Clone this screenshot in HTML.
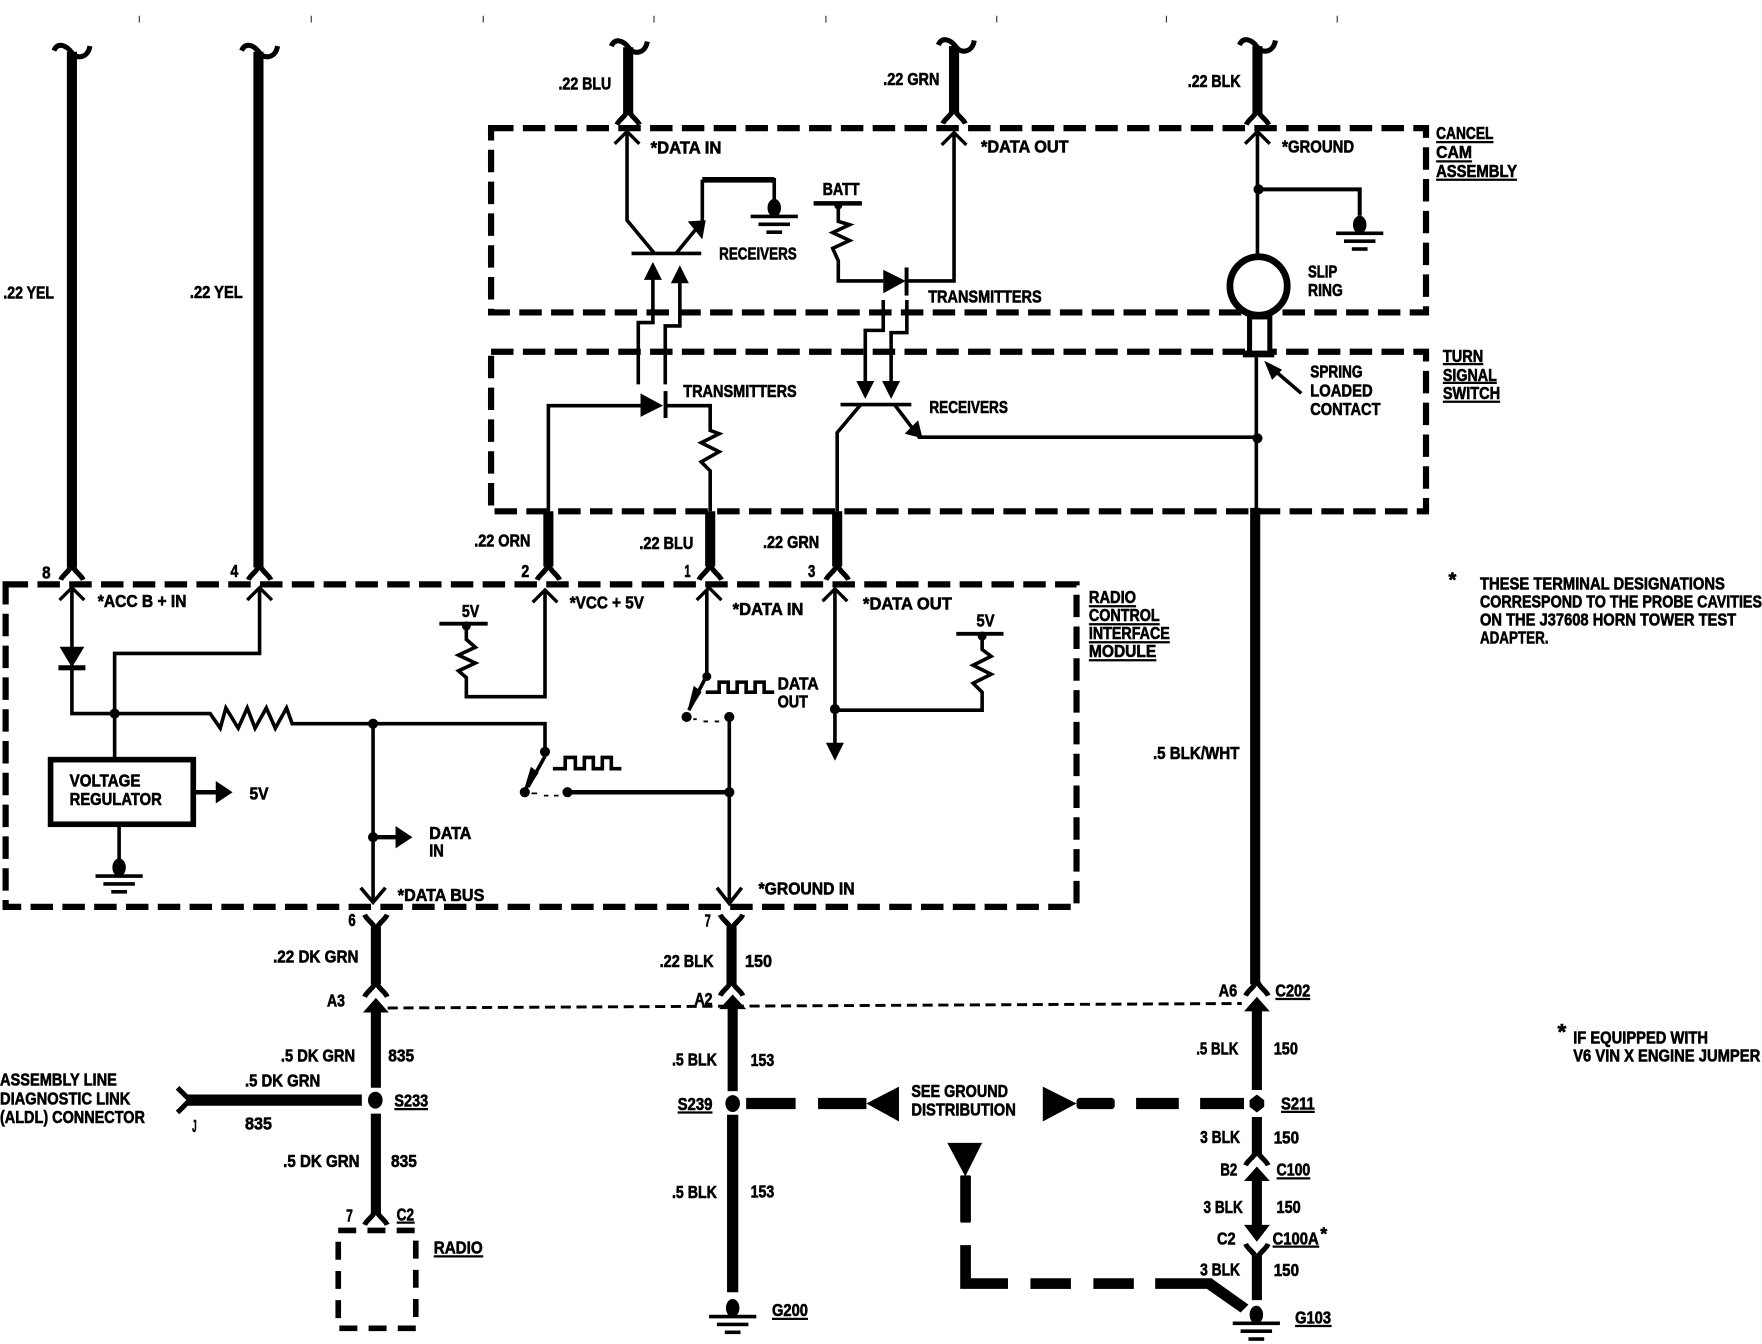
<!DOCTYPE html>
<html>
<head>
<meta charset="utf-8">
<style>
html,body{margin:0;padding:0;background:#fff;width:1762px;height:1344px;overflow:hidden}
svg{display:block}
text{font-family:"Liberation Sans",sans-serif;font-weight:bold;font-size:15.5px;fill:#000;stroke:#000;stroke-width:.55}
</style>
</head>
<body>
<svg xmlns="http://www.w3.org/2000/svg" width="1762" height="1344" viewBox="0 0 1568 1196">
<defs>
<path id="sq" d="M-16,0 C-13,-7 -6,-6 0,2 C3,7 14,8 16,-4" fill="none" stroke="#000" stroke-width="4.5"/>
<path id="fork" d="M-10,11 C-8,6 -2,4 0,-3 C2,4 8,6 10,11" fill="none" stroke="#000" stroke-width="4.5"/>
<path id="chev" d="M-11,10 L0,-1 L11,10" fill="none" stroke="#000" stroke-width="3"/>
<g id="gnd">
<ellipse cx="0" cy="0" rx="6" ry="8" fill="#000"/>
<rect x="-21" y="6" width="42" height="3.2"/>
<rect x="-14" y="13" width="28" height="3.2"/>
<rect x="-7" y="20" width="14" height="3.2"/>
</g>
</defs>
<rect width="1568" height="1196" fill="#fff"/>

<!-- ticks -->
<path d="M124,14V20M277,14V20M430,14V20M582,14V20M735,14V20M887,14V20M1038,14V20M1190,14V20" stroke="#333" stroke-width="1"/>

<!-- thick wires -->
<g stroke="#000" stroke-width="9" fill="none">
<path d="M64,46V505"/>
<path d="M230,46V505"/>
<path d="M559,42V101"/>
<path d="M849,41V100"/>
<path d="M1119,41V101"/>
<path d="M488,455V504"/>
<path d="M632,455V504"/>
<path d="M745,455V504"/>
<path d="M1117,452V876"/>
<path d="M334.5,825V876"/>
<path d="M651,825V876"/>
<path d="M334.5,895V968"/>
<path d="M334.5,991V1081"/>
<path d="M652,892V971"/>
<path d="M652,992V1150" stroke-width="10"/>
<path d="M1118.5,895V970"/>
<path d="M1118.5,994V1029"/>
<path d="M1118.5,1046V1095"/>
<path d="M1118.5,1116V1157"/>
<path d="M167,979H322" stroke-width="10"/>
</g>
<!-- squiggles -->
<use href="#sq" x="64" y="45"/>
<use href="#sq" x="231" y="45"/>
<use href="#sq" x="560" y="41"/>
<use href="#sq" x="851" y="40"/>
<use href="#sq" x="1119" y="40"/>
<!-- forks open downward -->
<use href="#fork" x="64" y="505"/>
<use href="#fork" x="231" y="505"/>
<use href="#fork" x="488" y="505"/>
<use href="#fork" x="632" y="505"/>
<use href="#fork" x="745" y="505"/>
<use href="#fork" x="559" y="100"/>
<use href="#fork" x="849" y="99"/>
<use href="#fork" x="1119" y="100"/>
<use href="#fork" x="334.5" y="876"/>
<use href="#fork" x="651" y="875"/>
<use href="#fork" x="1118.5" y="875"/>
<use href="#fork" x="1118.5" y="1026"/>
<use href="#fork" x="334.5" y="1079"/>
<!-- forks open upward -->
<use href="#fork" transform="translate(334.5,825) scale(1,-1)"/>
<use href="#fork" transform="translate(651,825) scale(1,-1)"/>
<use href="#fork" transform="translate(1118.5,1118) scale(1,-1)"/>
<!-- ALDL fork -->
<path d="M158,968 L169,979 L158,990" fill="none" stroke="#000" stroke-width="4.5"/>

<!-- big arrowheads on wires -->
<path d="M334.5,888 L346,901 L323,901Z"/>
<path d="M652,885 L664,898 L640,898Z"/>
<path d="M1118.5,887 L1130,900 L1107,900Z"/>
<path d="M1118.5,1038 L1130,1051 L1107,1051Z"/>
<path d="M1118.5,1105 L1107,1090 L1130,1090Z"/>

<!-- splice dots -->
<ellipse cx="334" cy="979" rx="6.5" ry="7.5"/>
<ellipse cx="652" cy="982" rx="6.5" ry="7.5"/>
<path d="M1118.5,974 L1125,979 V985 L1118.5,990 L1112,985 V979Z"/>

<!-- dashed boxes -->
<g fill="none" stroke="#000" stroke-width="5.5" stroke-dasharray="20 8.3">
<rect x="437" y="114" width="832" height="164"/>
<rect x="437" y="313" width="832" height="142"/>
<rect x="5" y="520" width="953" height="287"/>
</g>
<rect x="301" y="1095" width="69" height="87" fill="none" stroke="#000" stroke-width="5" stroke-dasharray="16 10"/>

<!-- thin dashed -->
<path d="M345,897L1105,893" stroke="#000" stroke-width="2.6" stroke-dasharray="9 5" fill="none"/>

<!-- cancel cam internals -->
<g fill="none" stroke="#000" stroke-width="3.2">
<path d="M558,118V196L582,225"/>
<path d="M562,225.5H624"/>
<path d="M602,225L625,197V160"/>
<path d="M625,160H689V180" />
<path d="M849,118V250H807"/>
<path d="M746,182V197L756,200L741,207L756,214L741,221L746,232V250H786"/>
<path d="M724,181H767" stroke-width="4"/>
<path d="M1119,118V228"/>
<path d="M1119,168.5H1210V192" stroke-width="3.6"/>
<path d="M568,342V287H581V248"/>
<path d="M592,342V290H605V251"/>
<path d="M786,267V294H770V340"/>
<path d="M807,267V296H793V340"/>
<path d="M488,455V361H570"/>
<path d="M592,361H632V383L640,386L624,394L640,402L624,411L632,419V455"/>
<path d="M748,360H811"/>
<path d="M766,360L745,385V455"/>
<path d="M796,360L818,389H1118"/>
<path d="M1118,318V455"/>
<path d="M1158,350L1130,326"/>
</g>
<path d="M625,160H689" stroke="#000" stroke-width="5" fill="none"/>
<path d="M612,197 L628,196 L625,213Z" transform="rotate(0)"/>
<use href="#chev" x="558" y="118"/>
<use href="#chev" x="849" y="119"/>
<use href="#chev" x="1119" y="118"/>
<use href="#gnd" x="689" y="185"/>
<use href="#gnd" transform="translate(1210,200)"/>
<ellipse cx="746" cy="183" rx="3.5" ry="3.5"/>
<circle cx="1120" cy="168.5" r="4.5"/>
<path d="M786,240 L806,250 L786,261Z"/>
<rect x="805" y="238" width="3.5" height="25"/>
<path d="M570,350 L590,361 L570,371Z"/>
<rect x="590.5" y="348" width="3.5" height="24"/>
<path d="M581,233 L589,249 L573,249Z"/>
<path d="M605,236 L613,252 L597,252Z"/>
<path d="M770,355 L762,339 L778,339Z"/>
<path d="M793,355 L785,339 L801,339Z"/>
<path d="M821,390 L805,386 L817,374Z"/>
<ellipse cx="1120" cy="254.5" rx="25.5" ry="26" fill="#fff" stroke="#000" stroke-width="6"/>
<rect x="1112" y="282" width="18" height="33" fill="#fff" stroke="#000" stroke-width="4.5"/>
<rect x="1106" y="312" width="28" height="6"/>
<circle cx="1119" cy="390" r="4.5"/>
<path d="M1125,321 L1141,329 L1132,338Z"/>

<!-- radio module internals -->
<g fill="none" stroke="#000" stroke-width="3.2">
<path d="M64,525V580"/>
<path d="M64,594V635H187L196,648L201,630L212,648L220,630L227,648L237,630L245,648L255,630L260,644H485V669"/>
<path d="M102,635V581.5H231V525"/>
<path d="M102,635V676"/>
<path d="M106,733V766"/>
<path d="M415,556V569L423,576L408,583L423,590L408,597L415,603V620H485V526"/>
<path d="M629,525V601"/>
<path d="M743,525V662"/>
<path d="M874,565V578L882,584L866,592L882,600L866,608L874,616V632H743"/>
<path d="M332,644V802"/>
<path d="M649,638V804"/>
<path d="M504,705H649" stroke-width="4"/>
<path d="M485,673L470,700"/>
<path d="M629,601L613,632"/>
<path d="M628,616H640V607H648V616H656V607H664V616H672V607H680V616H689"/>
<path d="M492,684H503V674H512V684H520V674H528V684H536V674H544V684H553"/>
<path d="M172,705H195" stroke-width="4"/>
<path d="M332,745H355" stroke-width="4"/>
<path d="M391,555H434" stroke-width="3.4"/>
<path d="M851,564H893" stroke-width="3.4"/>
<path d="M321,790L332,803L343,790"/>
<path d="M638,790L649,804L660,790"/>
<path d="M473,706H478M484,708H488M493,708H497" stroke-width="1.6"/>
<path d="M617,640H620M626,642H630M636,642H640" stroke-width="1.6"/>
</g>
<use href="#chev" x="64" y="524"/>
<use href="#chev" x="231" y="524"/>
<use href="#chev" x="485" y="526"/>
<use href="#chev" x="631" y="524"/>
<use href="#chev" x="743" y="525"/>
<path d="M53,575.5H75L64,594Z"/>
<rect x="52" y="592" width="24" height="4.5"/>
<rect x="45" y="676" width="127" height="57.5" fill="#fff" stroke="#000" stroke-width="5"/>
<path d="M192,695 L207,705 L192,715Z"/>
<path d="M352,735 L367,745 L352,755Z"/>
<path d="M743,677 L735,661 L751,661Z"/>
<use href="#gnd" transform="translate(106,772)"/>
<circle cx="102" cy="635" r="4.5"/>
<circle cx="332" cy="644" r="4.5"/>
<circle cx="332" cy="745" r="4.5"/>
<circle cx="485" cy="669" r="4.5"/>
<circle cx="467" cy="705" r="4.5"/>
<circle cx="505" cy="705" r="4.5"/>
<circle cx="649" cy="705" r="4.5"/>
<circle cx="649" cy="638" r="4.5"/>
<circle cx="611" cy="638" r="4.5"/>
<circle cx="629" cy="602" r="4"/>
<circle cx="743" cy="631" r="4.5"/>
<circle cx="415" cy="557" r="4"/>
<circle cx="874" cy="566" r="4"/>
<path d="M467,704 L478,688 L473,684Z" stroke="#000" stroke-width="2"/>
<path d="M613,632 L623,616 L618,612Z" stroke="#000" stroke-width="2"/>

<!-- ground distribution thick dashes -->
<g fill="#000">
<rect x="664" y="977" width="44" height="10"/>
<rect x="728" y="977" width="43" height="10"/>
<path d="M771,982 L800,967 L800,998Z"/>
<path d="M958,982 L928,967 L928,998Z"/>
<rect x="958" y="977" width="34" height="10" rx="3"/>
<rect x="1011" y="977" width="38" height="10"/>
<rect x="1068" y="977" width="39" height="10"/>
<path d="M843,1017 H874 L859,1047Z"/>
<rect x="854.5" y="1046" width="9.5" height="42" rx="1"/>
<path d="M854.5,1108 H864 V1137.5 H897 V1147 H854.5Z"/>
<rect x="917" y="1137.5" width="36" height="9.5"/>
<rect x="973" y="1137.5" width="36" height="9.5"/>
<path d="M1028,1137.5 H1078 L1111,1161 L1104,1168 L1074,1147 H1028Z"/>
</g>
<use href="#gnd" transform="translate(652,1164)"/>
<use href="#gnd" transform="translate(1118,1170)"/>

<!-- underlines -->
<path d="M1278,126.5H1329M1278,143.6H1310M1278,160H1350M1284,324H1320M1284,340.7H1332M1284,357.5H1335M969,539.5H1011M969,555.5H1032M969,571.5H1041M969,587.5H1029M1135,889H1166M351,987H381M603,990H634M1140,989.4H1170M1136,1048.6H1166M1132.5,1109.4H1174M353,1088H369M386,1118H430M687,1173.7H719M1152.5,1180H1185" stroke="#000" stroke-width="2" fill="none"/>

<!-- labels -->
<text x="3" y="265.5" textLength="45" lengthAdjust="spacingAndGlyphs">.22 YEL</text>
<text x="169" y="265" textLength="47" lengthAdjust="spacingAndGlyphs">.22 YEL</text>
<text x="497" y="79.5" textLength="47" lengthAdjust="spacingAndGlyphs">.22 BLU</text>
<text x="786" y="75.5" textLength="50" lengthAdjust="spacingAndGlyphs">.22 GRN</text>
<text x="1057" y="77.5" textLength="47" lengthAdjust="spacingAndGlyphs">.22 BLK</text>
<text x="579" y="136.5" textLength="63" lengthAdjust="spacingAndGlyphs">*DATA IN</text>
<text x="873" y="135.5" textLength="78" lengthAdjust="spacingAndGlyphs">*DATA OUT</text>
<text x="1141" y="135.5" textLength="64" lengthAdjust="spacingAndGlyphs">*GROUND</text>
<text x="1278" y="123.5" textLength="51" lengthAdjust="spacingAndGlyphs">CANCEL</text>
<text x="1278" y="140.5" textLength="32" lengthAdjust="spacingAndGlyphs">CAM</text>
<text x="1278" y="157.5" textLength="72" lengthAdjust="spacingAndGlyphs">ASSEMBLY</text>
<text x="1284" y="322" textLength="36" lengthAdjust="spacingAndGlyphs">TURN</text>
<text x="1284" y="339" textLength="48" lengthAdjust="spacingAndGlyphs">SIGNAL</text>
<text x="1284" y="355" textLength="51" lengthAdjust="spacingAndGlyphs">SWITCH</text>
<text x="732" y="173.5" textLength="33" lengthAdjust="spacingAndGlyphs">BATT</text>
<text x="640" y="231" textLength="69" lengthAdjust="spacingAndGlyphs">RECEIVERS</text>
<text x="826" y="269" textLength="101" lengthAdjust="spacingAndGlyphs">TRANSMITTERS</text>
<text x="1164" y="247" textLength="26" lengthAdjust="spacingAndGlyphs">SLIP</text>
<text x="1164" y="263.5" textLength="31" lengthAdjust="spacingAndGlyphs">RING</text>
<text x="608" y="353.5" textLength="101" lengthAdjust="spacingAndGlyphs">TRANSMITTERS</text>
<text x="827" y="367.5" textLength="70" lengthAdjust="spacingAndGlyphs">RECEIVERS</text>
<text x="1166" y="336" textLength="46.5" lengthAdjust="spacingAndGlyphs">SPRING</text>
<text x="1166" y="353" textLength="55.5" lengthAdjust="spacingAndGlyphs">LOADED</text>
<text x="1166" y="369.5" textLength="62.5" lengthAdjust="spacingAndGlyphs">CONTACT</text>
<text x="422" y="486.5" textLength="50" lengthAdjust="spacingAndGlyphs">.22 ORN</text>
<text x="569" y="488.5" textLength="48" lengthAdjust="spacingAndGlyphs">.22 BLU</text>
<text x="679" y="487.5" textLength="50" lengthAdjust="spacingAndGlyphs">.22 GRN</text>
<text x="37.5" y="515" textLength="7.5" lengthAdjust="spacingAndGlyphs">8</text>
<text x="205" y="513.5" textLength="7" lengthAdjust="spacingAndGlyphs">4</text>
<text x="464" y="513.5" textLength="7" lengthAdjust="spacingAndGlyphs">2</text>
<text x="609" y="513.5" textLength="5.5" lengthAdjust="spacingAndGlyphs">1</text>
<text x="719" y="513.5" textLength="6.5" lengthAdjust="spacingAndGlyphs">3</text>
<text x="87" y="540" textLength="79" lengthAdjust="spacingAndGlyphs">*ACC B + IN</text>
<text x="507" y="541.5" textLength="66" lengthAdjust="spacingAndGlyphs">*VCC + 5V</text>
<text x="652" y="547.5" textLength="63" lengthAdjust="spacingAndGlyphs">*DATA IN</text>
<text x="768" y="542.5" textLength="79" lengthAdjust="spacingAndGlyphs">*DATA OUT</text>
<text x="969" y="536.5" textLength="42" lengthAdjust="spacingAndGlyphs">RADIO</text>
<text x="969" y="552.5" textLength="63" lengthAdjust="spacingAndGlyphs">CONTROL</text>
<text x="969" y="568.5" textLength="72" lengthAdjust="spacingAndGlyphs">INTERFACE</text>
<text x="969" y="584.5" textLength="60" lengthAdjust="spacingAndGlyphs">MODULE</text>
<text x="1289" y="522" style="font-size:18px">*</text>
<text x="1317" y="524.5" textLength="218" lengthAdjust="spacingAndGlyphs">THESE TERMINAL DESIGNATIONS</text>
<text x="1317" y="540.5" textLength="251" lengthAdjust="spacingAndGlyphs">CORRESPOND TO THE PROBE CAVITIES</text>
<text x="1317" y="556.5" textLength="228" lengthAdjust="spacingAndGlyphs">ON THE J37608 HORN TOWER TEST</text>
<text x="1317" y="572.5" textLength="61" lengthAdjust="spacingAndGlyphs">ADAPTER.</text>
<text x="1026" y="675.5" textLength="77" lengthAdjust="spacingAndGlyphs">.5 BLK/WHT</text>
<text x="411" y="549" textLength="15.5" lengthAdjust="spacingAndGlyphs">5V</text>
<text x="869" y="557.5" textLength="16" lengthAdjust="spacingAndGlyphs">5V</text>
<text x="692" y="613.5" textLength="36.5" lengthAdjust="spacingAndGlyphs">DATA</text>
<text x="692" y="629.5" textLength="27" lengthAdjust="spacingAndGlyphs">OUT</text>
<text x="62" y="700" textLength="63" lengthAdjust="spacingAndGlyphs">VOLTAGE</text>
<text x="62" y="716.5" textLength="82" lengthAdjust="spacingAndGlyphs">REGULATOR</text>
<text x="222" y="711.5" textLength="17" lengthAdjust="spacingAndGlyphs">5V</text>
<text x="382" y="746.5" textLength="37.5" lengthAdjust="spacingAndGlyphs">DATA</text>
<text x="382" y="762" textLength="13" lengthAdjust="spacingAndGlyphs">IN</text>
<text x="354" y="802" textLength="77" lengthAdjust="spacingAndGlyphs">*DATA BUS</text>
<text x="675" y="796" textLength="85.5" lengthAdjust="spacingAndGlyphs">*GROUND IN</text>
<text x="310" y="824" textLength="6.5" lengthAdjust="spacingAndGlyphs">6</text>
<text x="627" y="824.5" textLength="5.5" lengthAdjust="spacingAndGlyphs">7</text>
<text x="243" y="856.5" textLength="76" lengthAdjust="spacingAndGlyphs">.22 DK GRN</text>
<text x="587" y="860.5" textLength="48" lengthAdjust="spacingAndGlyphs">.22 BLK</text>
<text x="663" y="860.5" textLength="24" lengthAdjust="spacingAndGlyphs">150</text>
<text x="291" y="895.5" textLength="16" lengthAdjust="spacingAndGlyphs">A3</text>
<text x="618" y="894.5" textLength="16" lengthAdjust="spacingAndGlyphs">A2</text>
<text x="1084.5" y="887" textLength="16.5" lengthAdjust="spacingAndGlyphs">A6</text>
<text x="1135" y="887" textLength="31" lengthAdjust="spacingAndGlyphs">C202</text>
<text x="250" y="944.5" textLength="66" lengthAdjust="spacingAndGlyphs">.5 DK GRN</text>
<text x="345.5" y="944.5" textLength="23" lengthAdjust="spacingAndGlyphs">835</text>
<text x="598" y="948" textLength="40" lengthAdjust="spacingAndGlyphs">.5 BLK</text>
<text x="668" y="948.5" textLength="21" lengthAdjust="spacingAndGlyphs">153</text>
<text x="1064.5" y="938.5" textLength="37.5" lengthAdjust="spacingAndGlyphs">.5 BLK</text>
<text x="1133.5" y="938.5" textLength="21.5" lengthAdjust="spacingAndGlyphs">150</text>
<text x="0" y="966" textLength="104" lengthAdjust="spacingAndGlyphs">ASSEMBLY LINE</text>
<text x="0" y="983" textLength="116" lengthAdjust="spacingAndGlyphs">DIAGNOSTIC LINK</text>
<text x="0" y="999.5" textLength="129" lengthAdjust="spacingAndGlyphs">(ALDL) CONNECTOR</text>
<text x="218" y="967" textLength="67" lengthAdjust="spacingAndGlyphs">.5 DK GRN</text>
<text x="218" y="1005" textLength="24" lengthAdjust="spacingAndGlyphs">835</text>
<text x="171" y="1007.5" textLength="4" lengthAdjust="spacingAndGlyphs">J</text>
<text x="351" y="984.5" textLength="30" lengthAdjust="spacingAndGlyphs">S233</text>
<text x="603" y="988" textLength="31" lengthAdjust="spacingAndGlyphs">S239</text>
<text x="1140" y="987.5" textLength="30" lengthAdjust="spacingAndGlyphs">S211</text>
<text x="252" y="1038.5" textLength="68" lengthAdjust="spacingAndGlyphs">.5 DK GRN</text>
<text x="348" y="1038.5" textLength="23" lengthAdjust="spacingAndGlyphs">835</text>
<text x="598" y="1066" textLength="40" lengthAdjust="spacingAndGlyphs">.5 BLK</text>
<text x="668" y="1065.5" textLength="21" lengthAdjust="spacingAndGlyphs">153</text>
<text x="308" y="1087" textLength="6" lengthAdjust="spacingAndGlyphs">7</text>
<text x="353" y="1086" textLength="15.5" lengthAdjust="spacingAndGlyphs">C2</text>
<text x="386" y="1115.5" textLength="43.5" lengthAdjust="spacingAndGlyphs">RADIO</text>
<text x="687" y="1171" textLength="32" lengthAdjust="spacingAndGlyphs">G200</text>
<text x="811" y="976" textLength="86" lengthAdjust="spacingAndGlyphs">SEE GROUND</text>
<text x="811" y="992.5" textLength="93" lengthAdjust="spacingAndGlyphs">DISTRIBUTION</text>
<text x="1068" y="1017" textLength="35.5" lengthAdjust="spacingAndGlyphs">3 BLK</text>
<text x="1133.5" y="1017.5" textLength="22.5" lengthAdjust="spacingAndGlyphs">150</text>
<text x="1086" y="1046" textLength="15" lengthAdjust="spacingAndGlyphs">B2</text>
<text x="1136" y="1046" textLength="30" lengthAdjust="spacingAndGlyphs">C100</text>
<text x="1071" y="1079.5" textLength="35" lengthAdjust="spacingAndGlyphs">3 BLK</text>
<text x="1136" y="1079.5" textLength="21.5" lengthAdjust="spacingAndGlyphs">150</text>
<text x="1083" y="1107.5" textLength="16.5" lengthAdjust="spacingAndGlyphs">C2</text>
<text x="1132.5" y="1107.5" textLength="41" lengthAdjust="spacingAndGlyphs">C100A</text>
<text x="1175" y="1103">*</text>
<text x="1068" y="1135" textLength="35.5" lengthAdjust="spacingAndGlyphs">3 BLK</text>
<text x="1133.5" y="1135.5" textLength="22.5" lengthAdjust="spacingAndGlyphs">150</text>
<text x="1152.5" y="1178" textLength="32" lengthAdjust="spacingAndGlyphs">G103</text>
<text x="1386" y="925" style="font-size:20px">*</text>
<text x="1400" y="928.5" textLength="120" lengthAdjust="spacingAndGlyphs">IF EQUIPPED WITH</text>
<text x="1400" y="944.5" textLength="166.5" lengthAdjust="spacingAndGlyphs">V6 VIN X ENGINE JUMPER</text>
</svg>
</body>
</html>
